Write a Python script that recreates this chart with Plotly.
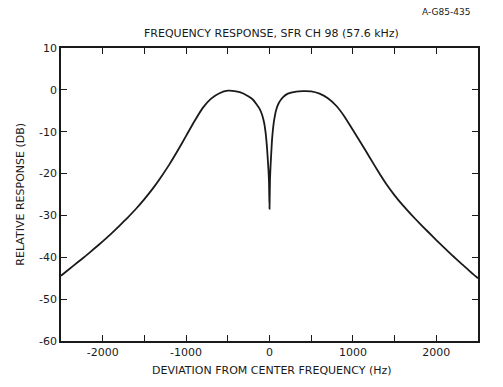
import plotly.graph_objects as go

freq_hz = [-2500, -2400, -2300, -2200, -2100, -2000, -1900, -1800, -1700, -1600, -1500, -1400, -1300, -1200, -1100,
           -1000, -900, -800, -700, -600, -500, -400, -320, -250, -200, -160, -120, -90, -65, -45, -30, -20, -12, -6, 0,
           6, 12, 20, 30, 40, 55, 80, 110, 160, 220, 320, 400, 500, 600, 700, 800, 900, 1000,
           1100, 1200, 1300, 1400, 1500, 1600, 1700, 1800, 1900, 2000, 2100, 2200, 2300, 2400, 2500]
response_db = [-44.4, -42.8, -41.2, -39.6, -37.9, -36.2, -34.4, -32.5, -30.5, -28.4, -26.1, -23.6, -20.8, -17.8, -14.5,
               -11.0, -7.5, -4.3, -2.1, -0.8, -0.2, -0.35, -0.8, -1.6, -2.3, -3.3, -4.5, -5.9, -7.8, -10.5, -13.8, -16.8, -19.3, -22.0, -28.4,
               -21.5, -18.5, -15.5, -12.0, -9.7, -7.3, -4.8, -3.2, -1.8, -0.9, -0.4, -0.3, -0.35, -0.9, -2.0, -3.8, -6.4, -9.6,
               -12.8, -16.1, -19.4, -22.5, -25.2, -27.6, -29.8, -31.9, -33.9, -35.9, -37.8, -39.7, -41.5, -43.3, -45.0]

x_tick_vals = [-2500, -2000, -1500, -1000, -500, 0, 500, 1000, 1500, 2000, 2500]
x_tick_text = ["", "-2000", "", "-1000", "", "0", "", "1000", "", "2000", ""]
y_tick_vals = [-60, -50, -40, -30, -20, -10, 0, 10]
y_tick_text = ["-60", "-50", "-40", "-30", "-20", "-10", "0", "10"]

FONT = "DejaVu Sans"
INK = "#1a1a1a"

fig = go.Figure()
fig.add_trace(go.Scatter(x=freq_hz, y=response_db, mode="lines",
                         line=dict(color=INK, width=1.8, shape="spline", smoothing=0.5),
                         showlegend=False, hoverinfo="skip"))

axis_common = dict(showgrid=False, zeroline=False, showline=True, linecolor=INK, linewidth=1.5,
                   mirror="ticks", ticks="inside", ticklen=6, tickwidth=1.2, tickcolor=INK,
                   tickfont=dict(family=FONT, size=11, color=INK))

fig.update_xaxes(range=[-2500, 2500], tickmode="array", tickvals=x_tick_vals, ticktext=x_tick_text, **axis_common)
fig.update_yaxes(range=[-60, 10], tickmode="array", tickvals=y_tick_vals, ticktext=y_tick_text, **axis_common)

fig.update_layout(
    width=503, height=387,
    margin=dict(l=61, r=25, t=48, b=46),
    paper_bgcolor="white", plot_bgcolor="white",
    font=dict(family=FONT, color=INK),
    annotations=[
        dict(text="FREQUENCY RESPONSE, SFR CH 98 (57.6 kHz)", xref="paper", yref="paper",
             x=0.505, y=1.048, showarrow=False, font=dict(size=11, family=FONT, color=INK),
             xanchor="center", yanchor="middle"),
        dict(text="A-G85-435", xref="paper", yref="paper", x=0.923, y=1.123, showarrow=False,
             font=dict(size=9, family=FONT, color=INK), xanchor="center", yanchor="middle"),
        dict(text="RELATIVE RESPONSE (DB)", xref="paper", yref="paper", x=-0.098, y=0.50,
             showarrow=False, textangle=-90, font=dict(size=11, family=FONT, color=INK),
             xanchor="center", yanchor="middle"),
        dict(text="DEVIATION FROM CENTER FREQUENCY (Hz)", xref="paper", yref="paper", x=0.505, y=-0.099,
             showarrow=False, font=dict(size=11, family=FONT, color=INK),
             xanchor="center", yanchor="middle"),
    ],
)

fig.write_html("out.html", config={"displayModeBar": False},
               post_script="document.body.style.margin='0';")
